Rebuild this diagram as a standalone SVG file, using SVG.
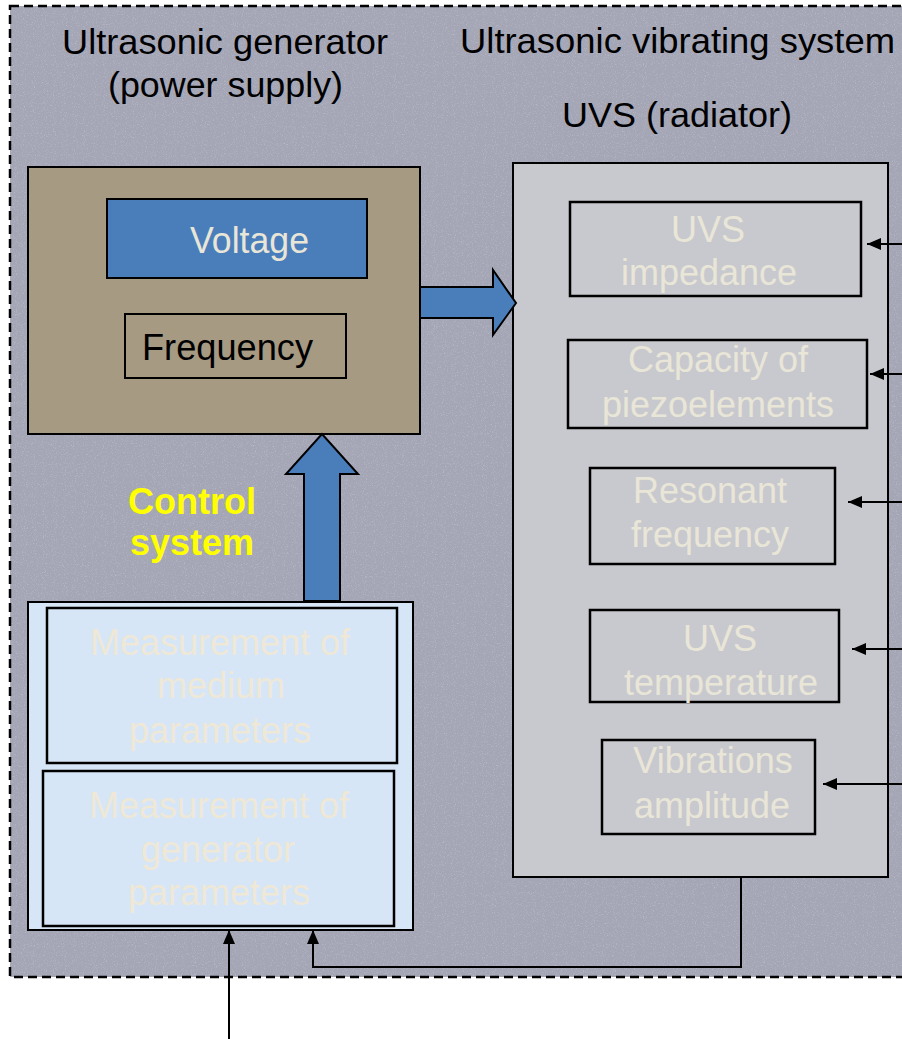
<svg xmlns="http://www.w3.org/2000/svg" width="902" height="1039" viewBox="0 0 902 1039">
  <style>
    .t { font-family: "Liberation Sans", Arial, sans-serif; font-size: 36px; text-anchor: middle; }
    .title { fill: #000000; font-size: 35px; }
    .dark { fill: #000000; }
    .cream { fill: #e9e6d8; }
    .creamb { fill: #efe8d6; }
    .yellow { fill: #ffff00; font-weight: bold; }
    .box { stroke: #000000; stroke-width: 2; }
    .sub { fill: none; stroke: #000000; stroke-width: 2.5; }
    .conn { fill: none; stroke: #000000; stroke-width: 2; }
    .block { fill: #4a7ebb; stroke: #000000; stroke-width: 2; }
  </style>
  <defs>
    <marker id="ah" markerUnits="userSpaceOnUse" markerWidth="14" markerHeight="12" refX="14" refY="6" orient="auto">
      <path d="M0,0 L14,6 L0,12 z" fill="#000000"/>
    </marker>
    <filter id="grain" x="0" y="0" width="100%" height="100%">
      <feTurbulence type="fractalNoise" baseFrequency="0.9" numOctaves="2" seed="4" result="n"/>
      <feColorMatrix in="n" type="matrix" values="0 0 0 0 1  0 0 0 0 1  0 0 0 0 1  1.6 0 0 0 -0.85"/>
    </filter>
  </defs>

  <rect x="0" y="0" width="902" height="1039" fill="#ffffff"/>

  <g id="frame">
    <rect x="10" y="6" width="900" height="971" fill="#a4a6b6"/>
    <rect x="10" y="6" width="900" height="971" filter="url(#grain)" opacity="0.4"/>
    <rect x="10" y="6" width="900" height="971" fill="none" stroke="#000000" stroke-width="2.5" stroke-dasharray="9,5"/>
  </g>

  <g id="title-generator">
    <text class="t title" x="225" y="54" textLength="326" lengthAdjust="spacingAndGlyphs">Ultrasonic generator</text>
    <text class="t title" x="225.5" y="97" textLength="235" lengthAdjust="spacingAndGlyphs">(power supply)</text>
  </g>
  <g id="title-uvs">
    <text class="t title" x="677.5" y="53" textLength="435" lengthAdjust="spacingAndGlyphs">Ultrasonic vibrating system</text>
    <text class="t title" x="677" y="127" textLength="230" lengthAdjust="spacingAndGlyphs">UVS (radiator)</text>
  </g>

  <g id="generator">
    <rect class="box" x="28" y="167" width="392" height="267" fill="#a79a83"/>
    <g id="voltage">
      <rect class="box" x="107" y="199" width="260" height="79" fill="#4a7ebb"/>
      <text class="t cream" x="249.5" y="253" textLength="119" lengthAdjust="spacingAndGlyphs">Voltage</text>
    </g>
    <g id="frequency">
      <rect class="box" x="125" y="314" width="221" height="64" fill="none"/>
      <text class="t dark" x="227.5" y="360" textLength="171" lengthAdjust="spacingAndGlyphs">Frequency</text>
    </g>
  </g>

  <g id="control-label">
    <text class="t yellow" x="192" y="514">Control</text>
    <text class="t yellow" x="192" y="555">system</text>
  </g>

  <g id="uvs">
    <rect class="box" x="513" y="163" width="375" height="714" fill="#c8c9ce"/>
    <g id="uvs-impedance">
      <rect class="sub" x="570" y="202" width="291" height="94"/>
      <text class="t cream" x="708" y="242">UVS</text>
      <text class="t cream" x="709" y="285">impedance</text>
    </g>
    <g id="capacity">
      <rect class="sub" x="568" y="340" width="299" height="88"/>
      <text class="t cream" x="718" y="372">Capacity of</text>
      <text class="t cream" x="718" y="417">piezoelements</text>
    </g>
    <g id="resonant">
      <rect class="sub" x="590" y="468" width="245" height="96"/>
      <text class="t cream" x="710" y="503">Resonant</text>
      <text class="t cream" x="710" y="547">frequency</text>
    </g>
    <g id="temperature">
      <rect class="sub" x="590" y="610" width="249" height="92"/>
      <text class="t cream" x="720" y="651">UVS</text>
      <text class="t cream" x="721" y="695">temperature</text>
    </g>
    <g id="amplitude">
      <rect class="sub" x="602" y="740" width="213" height="94"/>
      <text class="t cream" x="713" y="773">Vibrations</text>
      <text class="t cream" x="712" y="818">amplitude</text>
    </g>
  </g>

  <g id="measurement">
    <rect class="box" x="28" y="602" width="385" height="328" fill="#d6e6f6"/>
    <g id="medium">
      <rect class="sub" x="47" y="608" width="350" height="155"/>
      <text class="t creamb" x="220" y="655">Measurement of</text>
      <text class="t creamb" x="221" y="698">medium</text>
      <text class="t creamb" x="220" y="743">parameters</text>
    </g>
    <g id="generator-params">
      <rect class="sub" x="43" y="771" width="351" height="155"/>
      <text class="t creamb" x="219" y="818">Measurement of</text>
      <text class="t creamb" x="218" y="862">generator</text>
      <text class="t creamb" x="219" y="905">parameters</text>
    </g>
  </g>

  <g id="connectors">
    <polygon class="block" points="420,287 493,287 493,270 516,303 493,335 493,318 420,318"/>
    <polygon class="block" points="304,601 304,474 286,474 322,434 358,474 340,474 340,601"/>
    <path class="conn" d="M902,244 H867" marker-end="url(#ah)"/>
    <path class="conn" d="M902,374 H870" marker-end="url(#ah)"/>
    <path class="conn" d="M902,502 H848" marker-end="url(#ah)"/>
    <path class="conn" d="M902,649 H852" marker-end="url(#ah)"/>
    <path class="conn" d="M902,784 H823" marker-end="url(#ah)"/>
    <path class="conn" d="M229,1039 V930" marker-end="url(#ah)"/>
    <path class="conn" d="M741,877 V967 H313 V930" marker-end="url(#ah)"/>
  </g>
</svg>
